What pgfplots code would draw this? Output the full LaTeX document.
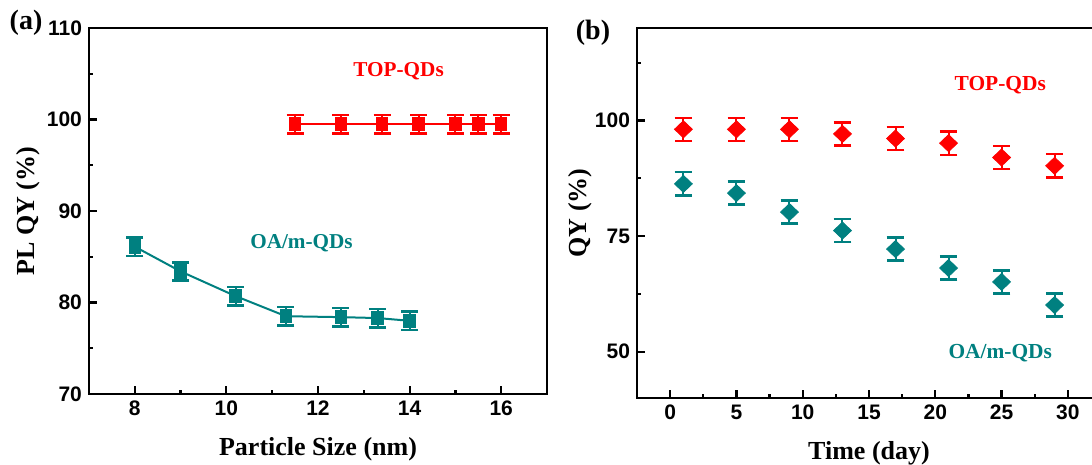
\documentclass[border=0pt]{standalone}
\usepackage{pgfplots}
\pgfplotsset{compat=1.18}
\usepackage{fontspec}
\setmainfont{Liberation Serif}
\newfontfamily\arialfont{Liberation Sans}
\definecolor{tealc}{RGB}{0,128,128}
\definecolor{redc}{RGB}{255,0,0}

\pgfplotstableread{
x y e
11.5 99.5 1
12.5 99.5 1
13.4 99.5 1
14.2 99.5 1
15.0 99.5 1
15.5 99.5 1
16.0 99.5 1
}\topsize
\pgfplotstableread{
x y e
8.0 86.1 1
9.0 83.4 1
10.2 80.7 1
11.3 78.5 1
12.5 78.4 1
13.3 78.3 1
14.0 78.0 1
}\oasize
\pgfplotstableread{
x y e
1 98.1 2.5
5 98.1 2.5
9 98.1 2.5
13 97.1 2.5
17 96.1 2.5
21 95.1 2.5
25 92.0 2.5
29 90.2 2.5
}\toptime
\pgfplotstableread{
x y e
1 86.3 2.5
5 84.3 2.5
9 80.2 2.5
13 76.2 2.5
17 72.2 2.5
21 68.1 2.5
25 65.1 2.5
29 60.1 2.5
}\oatime

\pgfplotsset{
 common/.style={
  scale only axis,
  axis line style={line width=1.15pt},
  every tick/.style={line width=1.1pt, black},
  major tick length=3.8pt,
  minor tick length=1.9pt,
  tick align=inside,
  tick pos=left,
  /pgf/number format/assume math mode=true,
  ticklabel style={font=\arialfont\bfseries\fontsize{10.5}{12}\selectfont},
  label style={font=\bfseries\fontsize{13}{15}\selectfont},
  clip=false,
 },
 sqr/.style={color=#1, line width=1pt, mark=square*, mark size=3.1pt,
  mark options={xscale=0.85, solid},
  error bars/.cd, y dir=both, y explicit, error mark=-,
  error bar style={line width=1pt},
  error mark options={rotate=90, line width=1.3pt, mark size=4.25pt}},
 dia/.style={color=#1, only marks, mark=diamond*, mark size=4.25pt,
  mark options={xscale=1.4, solid},
  error bars/.cd, y dir=both, y explicit, error mark=-,
  error bar style={line width=1pt},
  error mark options={rotate=90, line width=1.2pt, mark size=4.4pt}},
}

\begin{document}
\begin{tikzpicture}
\begin{axis}[common, at={(44.5pt,35.5pt)}, anchor=south west,
  width=229pt, height=183pt,
  xmin=7, xmax=17, ymin=70, ymax=110,
  xtick={8,10,12,14,16}, minor xtick={9,11,13,15},
  ytick={70,80,90,100,110}, minor ytick={75,85,95,105},
  xlabel={Particle Size (nm)}, ylabel={PL QY (\%)},
  xlabel style={at={(axis description cs:0.5,-0.152)}, anchor=center},
  ylabel style={at={(axis description cs:-0.133,0.5)}, anchor=center},
]
\addplot[sqr=redc] table[x=x, y=y, y error=e] {\topsize};
\addplot[sqr=tealc] table[x=x, y=y, y error=e] {\oasize};
\node[text=redc, font=\bfseries\fontsize{10.6}{12}\selectfont] at (axis cs:13.76,105.3) {TOP-QDs};
\node[text=tealc, font=\bfseries\fontsize{10.6}{12}\selectfont] at (axis cs:11.64,86.5) {OA/m-QDs};
\end{axis}
\node[font=\bfseries\fontsize{14}{16}\selectfont] at (13pt,221pt) {(a)};

\begin{axis}[common, at={(318.5pt,33.5pt)}, anchor=south west,
  width=232pt, height=185pt,
  xmin=-2.5, xmax=32.5, ymin=40, ymax=120,
  xtick={0,5,10,15,20,25,30}, minor xtick={2.5,7.5,12.5,17.5,22.5,27.5},
  ytick={50,75,100}, minor ytick={62.5,87.5,112.5},
  xlabel={Time (day)}, ylabel={QY (\%)},
  xlabel style={at={(axis description cs:0.5,-0.149)}, anchor=center},
  ylabel style={at={(axis description cs:-0.123,0.5)}, anchor=center},
]
\addplot[dia=redc] table[x=x, y=y, y error=e] {\toptime};
\addplot[dia=tealc] table[x=x, y=y, y error=e] {\oatime};
\node[text=redc, font=\bfseries\fontsize{10.7}{12}\selectfont] at (axis cs:24.9,107.7) {TOP-QDs};
\node[text=tealc, font=\bfseries\fontsize{10.7}{12}\selectfont] at (axis cs:24.9,49.7) {OA/m-QDs};
\end{axis}
\node[font=\bfseries\fontsize{14}{16}\selectfont] at (296.5pt,216pt) {(b)};

\pgfresetboundingbox
\useasboundingbox (0,0) rectangle (546pt,232.5pt);
\end{tikzpicture}
\end{document}
